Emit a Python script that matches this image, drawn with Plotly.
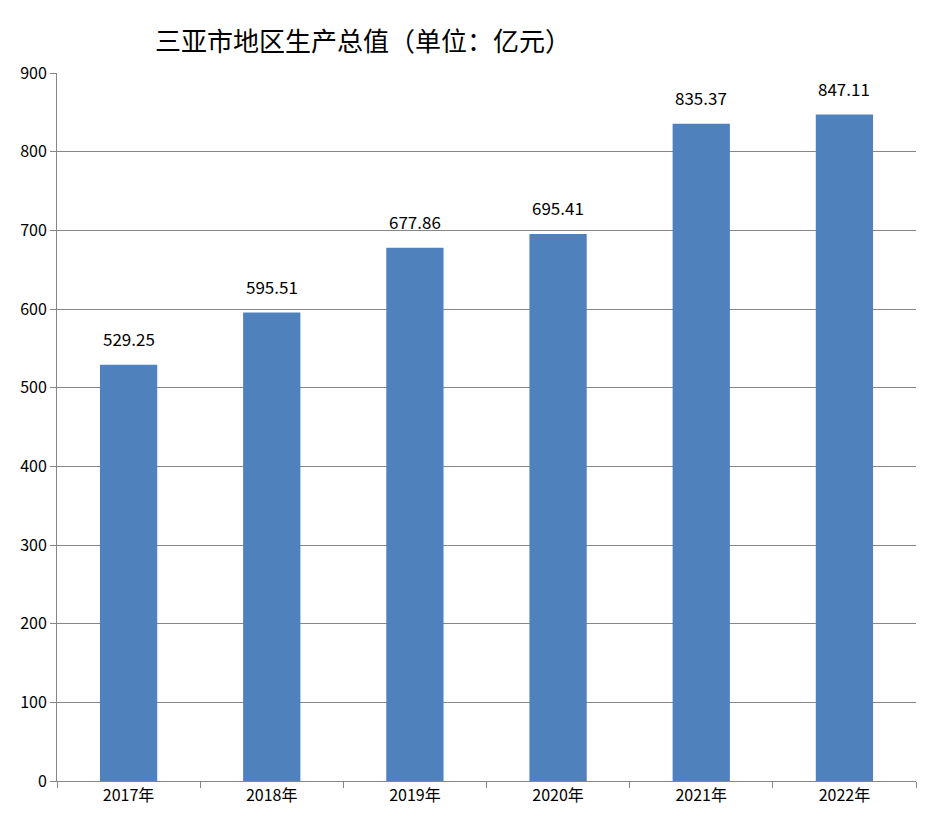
import plotly.graph_objects as go

years = ["2017年", "2018年", "2019年", "2020年", "2021年", "2022年"]
gdp = [529.25, 595.51, 677.86, 695.41, 835.37, 847.11]
y_ticks = [0, 100, 200, 300, 400, 500, 600, 700, 800, 900]

font_family = "Noto Sans CJK SC, Noto Sans, sans-serif"

fig = go.Figure(
    go.Bar(
        x=years,
        y=gdp,
        marker={"color": "#4f81bd", "line": {"width": 0}},
    )
)

# value labels sit well above the bars
for year, value in zip(years, gdp):
    fig.add_annotation(
        x=year,
        y=value,
        text=f"{value:.2f}",
        showarrow=False,
        yanchor="bottom",
        yshift=12,
        font={"size": 17, "color": "#000000"},
    )

fig.update_layout(
    width=930,
    height=814,
    margin={"l": 47, "r": 22, "t": 65, "b": 41},
    paper_bgcolor="white",
    plot_bgcolor="white",
    bargap=0.6,
    showlegend=False,
    font={"family": font_family, "color": "#000000"},
    title={
        "text": "三亚市地区生产总值（单位：亿元）",
        "x": 0.158,
        "xanchor": "left",
        "y": 0.958,
        "yanchor": "middle",
        "font": {"size": 26},
    },
)
fig.update_yaxes(
    range=[0, 900],
    tickvals=y_ticks,
    showgrid=True,
    gridcolor="#868686",
    gridwidth=1,
    showline=True,
    linecolor="#868686",
    ticks="outside",
    ticklen=6,
    tickcolor="#868686",
    tickfont={"size": 16},
    zeroline=False,
)
fig.update_xaxes(
    showline=True,
    linecolor="#868686",
    ticks="outside",
    tickson="boundaries",
    ticklen=6,
    tickcolor="#868686",
    tickfont={"size": 16},
)

fig.write_html("out.html")
